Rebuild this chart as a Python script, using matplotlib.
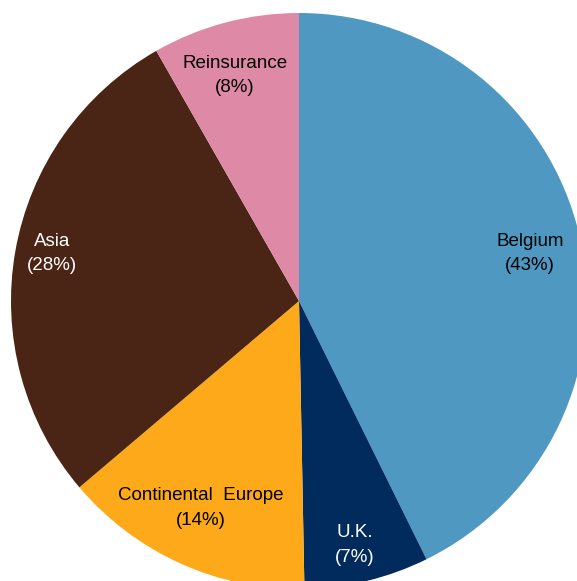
import matplotlib
matplotlib.use("Agg")
import matplotlib.pyplot as plt
import numpy as np

# slices, clockwise from 12 o'clock (shares)
regions = ["Belgium", "U.K.", "Continental  Europe", "Asia", "Reinsurance"]
shares = [42.7, 7.0, 14.1, 27.95, 8.25]
pct_labels = ["43%", "7%", "14%", "28%", "8%"]
colors = ["#4F98C2", "#002B5C", "#FDA919", "#4A2414", "#DE8AA7"]
text_colors = ["black", "white", "black", "white", "black"]
# label placement: radius (fraction of pie radius) and angle nudge (deg)
label_radius = [0.819, 0.869, 0.795, 0.873, 0.814]
label_nudge = [-1.5, -0.8, -1.0, -0.9, 1.0]

W, H = 577, 581
R_PX = 288
CX, CY = 299, 301  # pie centre in pixels (from top-left)

fig = plt.figure(figsize=(W / 100, H / 100), dpi=100)
ax = fig.add_axes([0, 0, 1, 1])
ax.axis("off")

wedges, _ = ax.pie(shares, colors=colors, startangle=90, counterclock=False,
                   radius=1, wedgeprops=dict(linewidth=0))

for w, name, pct, tc, r, dn in zip(wedges, regions, pct_labels, text_colors,
                                   label_radius, label_nudge):
    mid = np.deg2rad((w.theta1 + w.theta2) / 2 + dn)
    ax.text(r * np.cos(mid), r * np.sin(mid), f"{name}\n({pct})",
            ha="center", va="center", color=tc, fontsize=13.5,
            family="Liberation Sans", linespacing=1.6)

ax.set_xlim(-CX / R_PX, (W - CX) / R_PX)
ax.set_ylim(-(H - CY) / R_PX, CY / R_PX)
ax.set_aspect("auto")

fig.savefig("out.png", dpi=100)
